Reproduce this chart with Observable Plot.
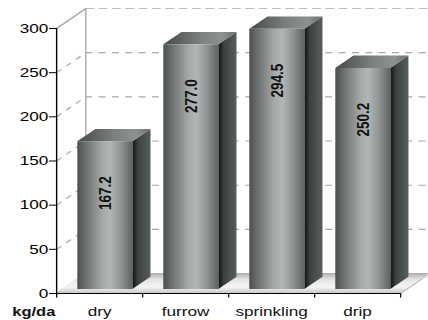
<!DOCTYPE html>
<html>
<head>
<meta charset="utf-8">
<script src="https://cdn.jsdelivr.net/npm/d3@7"></script>
<script src="https://cdn.jsdelivr.net/npm/@observablehq/plot@0.6"></script>
<style>
  body { margin: 0; background: #fff; }
  #chart svg { display: block; }
</style>
</head>
<body>
<div id="chart"></div>
<script>
// Yield by irrigation method
const categories = ["dry", "furrow", "sprinkling", "drip"];
const values = [167.2, 277.0, 294.5, 250.2];
const yTicks = [0, 50, 100, 150, 200, 250, 300];
const unitLabel = "kg/da";

// Page size; the drawing is made narrower and stretched horizontally to fit.
const W = 428, H = 320, stretch = 1.27;
const innerW = W / stretch;

// Box projection, in data units
const n = categories.length;
const yMax = 300;
const depthX = 0.34;   // depth offset along x (category units)
const depthY = 22.6;   // depth offset along y (value units)
const barW = 0.64, barFront = 0.2, barDepth = 0.62;
const bdx = barDepth * depthX, bdy = barDepth * depthY;

const bars = categories.map((c, i) => {
  const x0 = i + 0.5 - barW / 2 + barFront * depthX;
  return {c, v: values[i], x0, x1: x0 + barW, yb: barFront * depthY};
});
const sides = bars.flatMap(b => [
  {c: b.c, x: b.x1, y1: b.yb, y2: b.yb + b.v},
  {c: b.c, x: b.x1 + bdx, y1: b.yb + bdy, y2: b.yb + b.v + bdy}
]);
const tops = bars.flatMap(b => [
  {c: b.c, y: b.yb + b.v, x1: b.x0, x2: b.x1},
  {c: b.c, y: b.yb + b.v + bdy, x1: b.x0 + bdx, x2: b.x1 + bdx}
]);
const floor = [
  {y: 0, x1: 0, x2: n},
  {y: depthY, x1: depthX, x2: n + depthX}
];
const gridTicks = yTicks.filter(t => t > 0 && t < yMax);

const font = "'Liberation Sans', Arial, Helvetica, sans-serif";

const plot = Plot.plot({
  width: innerW,
  height: H,
  marginLeft: 56 / stretch,
  marginRight: 0,
  marginTop: 8,
  marginBottom: 27,
  style: {fontFamily: font, fontSize: "13px", background: "#fff"},
  x: {domain: [0, n + 0.326], axis: null},
  y: {domain: [0, yMax + depthY], axis: null},
  marks: [
    // back wall grid
    Plot.ruleY(gridTicks, {y: t => t + depthY, x1: depthX, x2: n + depthX + 0.2,
      stroke: "#a8a8a8", strokeWidth: 1.1, strokeDasharray: "5.5,5"}),
    Plot.ruleY([yMax], {y: t => t + depthY, x1: depthX, x2: n + depthX + 0.2,
      stroke: "#bdbdbd", strokeWidth: 1.2, strokeDasharray: "7,3.5"}),
    Plot.ruleX([depthX], {y1: depthY, y2: yMax + depthY, stroke: "#b0b0b0", strokeWidth: 1.2}),
    // left wall grid
    Plot.link(gridTicks, {x1: 0, y1: t => t, x2: depthX, y2: t => t + depthY,
      stroke: "#a8a8a8", strokeWidth: 1.1, strokeDasharray: "5,5"}),
    Plot.link([0, yMax], {x1: 0, y1: t => t, x2: depthX, y2: t => t + depthY,
      stroke: "#a0a0a0", strokeWidth: 1.1}),
    // floor
    Plot.areaX(floor, {y: "y", x1: "x1", x2: "x2", fill: "url(#gFloor)"}),
    Plot.link([0], {x1: n, y1: 0, x2: n + depthX, y2: depthY, stroke: "#b8b8b8", strokeWidth: 1}),
    // boxes
    Plot.areaY(sides, {x: "x", y1: "y1", y2: "y2", z: "c", fill: "url(#gSide)"}),
    Plot.areaX(tops, {y: "y", x1: "x1", x2: "x2", z: "c", fill: "url(#gTop)"}),
    Plot.rect(bars, {x1: "x0", x2: "x1", y1: "yb", y2: d => d.yb + d.v, fill: "url(#gFront)"}),
    // value labels
    Plot.text(bars, {x: d => (d.x0 + d.x1) / 2, y: d => d.yb + d.v - 58,
      text: d => d.v.toFixed(1), rotate: -90, fontWeight: "bold", fontSize: 13.5, fill: "#111"}),
    // axes
    Plot.ruleX([0], {y1: 0, y2: yMax, stroke: "#000", strokeWidth: 1.1}),
    Plot.ruleY([0], {x1: 0, x2: n, stroke: "#000", strokeWidth: 1.1}),
    Plot.axisY(yTicks, {tickSize: 5.5, tickPadding: 1, fontSize: 13.5, label: null}),
    Plot.axisX(d3.range(n + 1), {tickSize: 4.5, tickFormat: () => "", label: null}),
    Plot.text(categories, {x: (d, i) => i + 0.5, frameAnchor: "bottom", lineAnchor: "top",
      dy: 13, fontSize: 13.5, fill: "#111"}),
    Plot.text([unitLabel], {frameAnchor: "bottom-left", textAnchor: "end", lineAnchor: "top",
      dx: -1, dy: 13.5, fontWeight: "bold", fontSize: 13, fill: "#111"})
  ]
});

// shading gradients for the boxes and the floor
const defs = d3.select(plot).insert("defs", ":first-child");
function grad(id, stops, vertical) {
  const g = defs.append("linearGradient").attr("id", id)
    .attr("x1", 0).attr("y1", 0).attr("x2", vertical ? 0 : 1).attr("y2", vertical ? 1 : 0);
  stops.forEach(([o, c]) => g.append("stop").attr("offset", o).attr("stop-color", c));
}
grad("gFront", [[0, "#4a4e4e"], [0.12, "#656969"], [0.45, "#a5a8a8"], [0.6, "#b3b6b6"], [0.8, "#8e9292"], [1, "#5e6262"]]);
grad("gSide", [[0, "#121515"], [0.16, "#252929"], [0.3, "#3c4141"], [1, "#575c5c"]]);
grad("gTop", [[0, "#454949"], [0.5, "#7b7f7f"], [0.8, "#8d9191"], [1, "#6a6e6e"]]);
grad("gFloor", [[0, "#acacac"], [0.3, "#e2e2e2"], [0.7, "#f5f5f5"], [1, "#c8c8c8"]], true);

plot.setAttribute("preserveAspectRatio", "none");
plot.setAttribute("width", W);
plot.setAttribute("height", H);
plot.style.width = W + "px";
plot.style.height = H + "px";
plot.style.maxWidth = "none";
document.getElementById("chart").append(plot);
</script>
</body>
</html>
